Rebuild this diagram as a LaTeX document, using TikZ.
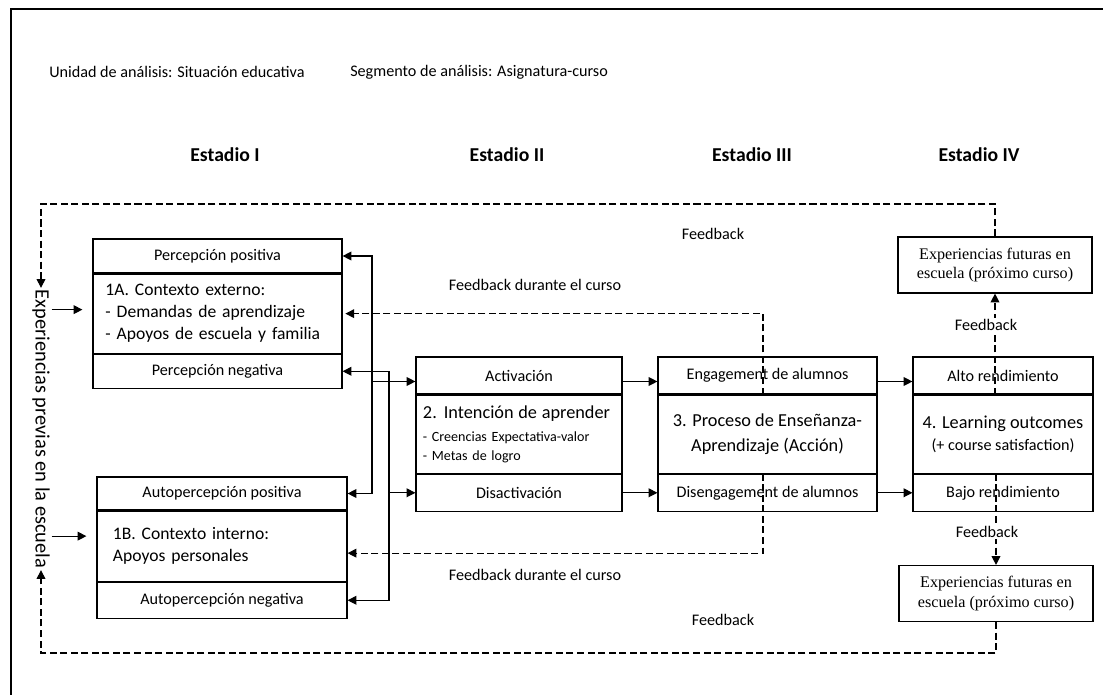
\documentclass[tikz,border=0pt]{standalone}
\usepackage{fontspec}
\setmainfont{Carlito}
\newfontfamily\serif{Liberation Serif}
\usetikzlibrary{arrows.meta, positioning}
\newcommand{\lbl}{\fontsize{11.5}{13}\selectfont}
\newcommand{\mainsz}{\fontsize{13}{15.6}\selectfont}
\newcommand{\ctxsz}{\fontsize{12.5}{15.6}\selectfont}
\newcommand{\smallsz}{\fontsize{10}{13.5}\selectfont}
\newcommand{\hdrsz}{\fontsize{11.5}{13}\selectfont}
\newcommand{\estsz}{\fontsize{14}{16}\selectfont}
\newcommand{\prevsz}{\fontsize{14.5}{16}\selectfont}
\hyphenpenalty=10000

\tikzset{
  >={Triangle[length=2.2mm,width=2.2mm]},
  row/.style={rectangle, draw, line width=0.8pt, inner sep=0pt, font=\lbl},
  mid/.style={row, font=\mainsz, align=left},
  fut/.style={rectangle, draw, line width=0.8pt, align=center, minimum width=4.85cm, minimum height=1.4cm, font=\serif\fontsize{11.5}{14}\selectfont},
  fb/.style={->, line width=0.75pt, dash pattern=on 5pt off 2.5pt},
  lab/.style={font=\lbl}
}

\begin{document}
\begin{tikzpicture}[x=0.025cm, y=-0.025cm, line width=0.8pt]
    \useasboundingbox (0,0) rectangle (1103,695);
    \draw[line width=1.3pt] (11,695) -- (11,9) -- (1103,9);

    % headings
    \node (unidad)   at (44,72)   [anchor=west, font=\hdrsz] {Unidad de análisis: Situación educativa};
    \node (segmento) at (345,72)  [anchor=west, font=\hdrsz] {Segmento de análisis: Asignatura-curso};
    \node (est1) at (225,155) [font=\estsz\bfseries] {Estadio I};
    \node (est2) at (507,155) [font=\estsz\bfseries] {Estadio II};
    \node (est3) at (752,155) [font=\estsz\bfseries] {Estadio III};
    \node (est4) at (979,155) [font=\estsz\bfseries] {Estadio IV};

    \node (prev) at (41,429) [rotate=-90, inner sep=1pt, font=\prevsz] {Experiencias previas en la escuela};

    % estadio I
    \node (ppos) at (217.5,256) [row, minimum width=6.225cm, minimum height=0.85cm] {Percepción positiva};
    \node (cext) [mid, below=0pt of ppos, minimum width=6.225cm, minimum height=1.975cm, text width=5.6cm, inner xsep=0.3cm, font=\ctxsz] {1A. Contexto externo:\\- Demandas de aprendizaje\\- Apoyos de escuela y familia};
    \node (pneg) [row, below=0pt of cext, minimum width=6.225cm, minimum height=0.85cm] {Percepción negativa};

    \node (apos) at (222,493.5) [row, minimum width=6.25cm, minimum height=0.825cm] {Autopercepción positiva};
    \node (cint) [mid, below=0pt of apos, minimum width=6.25cm, minimum height=1.75cm, text width=5.45cm, inner xsep=0.35cm, font=\ctxsz] {1B. Contexto interno:\\Apoyos personales};
    \node (aneg) [row, below=0pt of cint, minimum width=6.25cm, minimum height=0.9cm] {Autopercepción negativa};

    % estadio II
    \node (act) at (519,375.5) [row, minimum width=5.15cm, minimum height=0.925cm] {Activación};
    \node (inten) [mid, below=0pt of act, minimum width=5.15cm, minimum height=1.95cm, text width=4.8cm, inner xsep=0.1cm, font=\smallsz] {{\mainsz 2. Intención de aprender}\\[3pt]- Creencias Expectativa-valor\\- Metas de logro};
    \node (dis) [row, below=0pt of inten, minimum width=5.15cm, minimum height=0.925cm] {Disactivación};

    % estadio III
    \node (eng) at (767.5,375.5) [row, minimum width=5.475cm, minimum height=0.925cm] {Engagement de alumnos};
    \node (proc) [mid, below=0pt of eng, align=center, minimum width=5.475cm, minimum height=1.95cm, font=\fontsize{13}{17.7}\selectfont] {3. Proceso de Enseñanza-\\Aprendizaje (Acción)};
    \node (diseng) [row, below=0pt of proc, minimum width=5.475cm, minimum height=0.925cm] {Disengagement de alumnos};

    % estadio IV
    \node (alto) at (1003,375.5) [row, minimum width=4.5cm, minimum height=0.925cm] {Alto rendimiento};
    \node (outc) [mid, below=0pt of alto, align=center, minimum width=4.5cm, minimum height=1.95cm] {4. Learning outcomes\\{\lbl (+ course satisfaction)}};
    \node (bajo) [row, below=0pt of outc, minimum width=4.5cm, minimum height=0.925cm] {Bajo rendimiento};

    \node (futA) at (995,265)   [fut] {Experiencias futuras en\\escuela (próximo curso)};
    \node (futB) at (996,593.5) [fut] {Experiencias futuras en\\escuela (próximo curso)};

    % entradas
    \coordinate (extin) at ([xshift=-0.25cm,yshift=0.1cm]cext.west);
    \coordinate (intin) at ([xshift=-0.25cm,yshift=0.25cm]cint.west);
    \draw[->] (prev.north |- extin) -- (extin);
    \draw[->] (prev.north |- intin) -- (intin);

    % estadio I -> II
    \coordinate (la) at (372,0);
    \coordinate (lb) at (389,0);
    \coordinate (actin) at ([yshift=-0.15cm]act.west);
    \draw[<->] (ppos.east) -| (la |- apos.east) -- (apos.east);
    \draw[->] (la |- actin) -- (actin);
    \draw[<->] (pneg.east) -| (lb |- aneg.east) -- (aneg.east);
    \draw[->] (lb |- dis.west) -- (dis.west);

    % estadio II -> III -> IV
    \coordinate (actout) at ([yshift=-0.15cm]act.east);
    \draw[->] (actout) -- (actout -| eng.west);
    \draw[->] (dis.east) -- (diseng.west);
    \draw[->] (eng.east |- actout) -- (actout -| alto.west);
    \draw[->] (diseng.east) -- (bajo.west);

    % feedback durante el curso
    \coordinate (fbx) at (763,0);
    \coordinate (extfb) at ([xshift=2pt]cext.east);
    \coordinate (cintfb) at ([yshift=-0.175cm]cint.east);
    \draw[fb] (fbx |- eng.south) |- (extfb);
    \draw[fb] (fbx |- diseng.north) |- (cintfb);
    \node (fbcA) at (535,285) [lab] {Feedback durante el curso};
    \node (fbcB) at (535,575) [lab] {Feedback durante el curso};

    % feedback estadio IV
    \draw[fb] (futA.south |- alto.south) -- (futA.south);
    \node (fbA) at (986,325) [lab, fill=white, inner sep=1pt] {Feedback};
    \draw[fb] (futB.north |- bajo.north) -- (futB.north);
    \node (fbB) at (987,532) [lab, fill=white, inner sep=1pt] {Feedback};

    % lazos hacia experiencias previas
    \coordinate (topY) at (0,204);
    \coordinate (botY) at (0,653);
    \draw[fb] (futA.north) |- (prev.west |- topY) -- (prev.west);
    \draw[fb] (futB.south) |- (prev.east |- botY) -- (prev.east);
    \node (fbtop) at (713,234) [lab] {Feedback};
    \node (fbbot) at (723,620) [lab] {Feedback};
\end{tikzpicture}
\end{document}
